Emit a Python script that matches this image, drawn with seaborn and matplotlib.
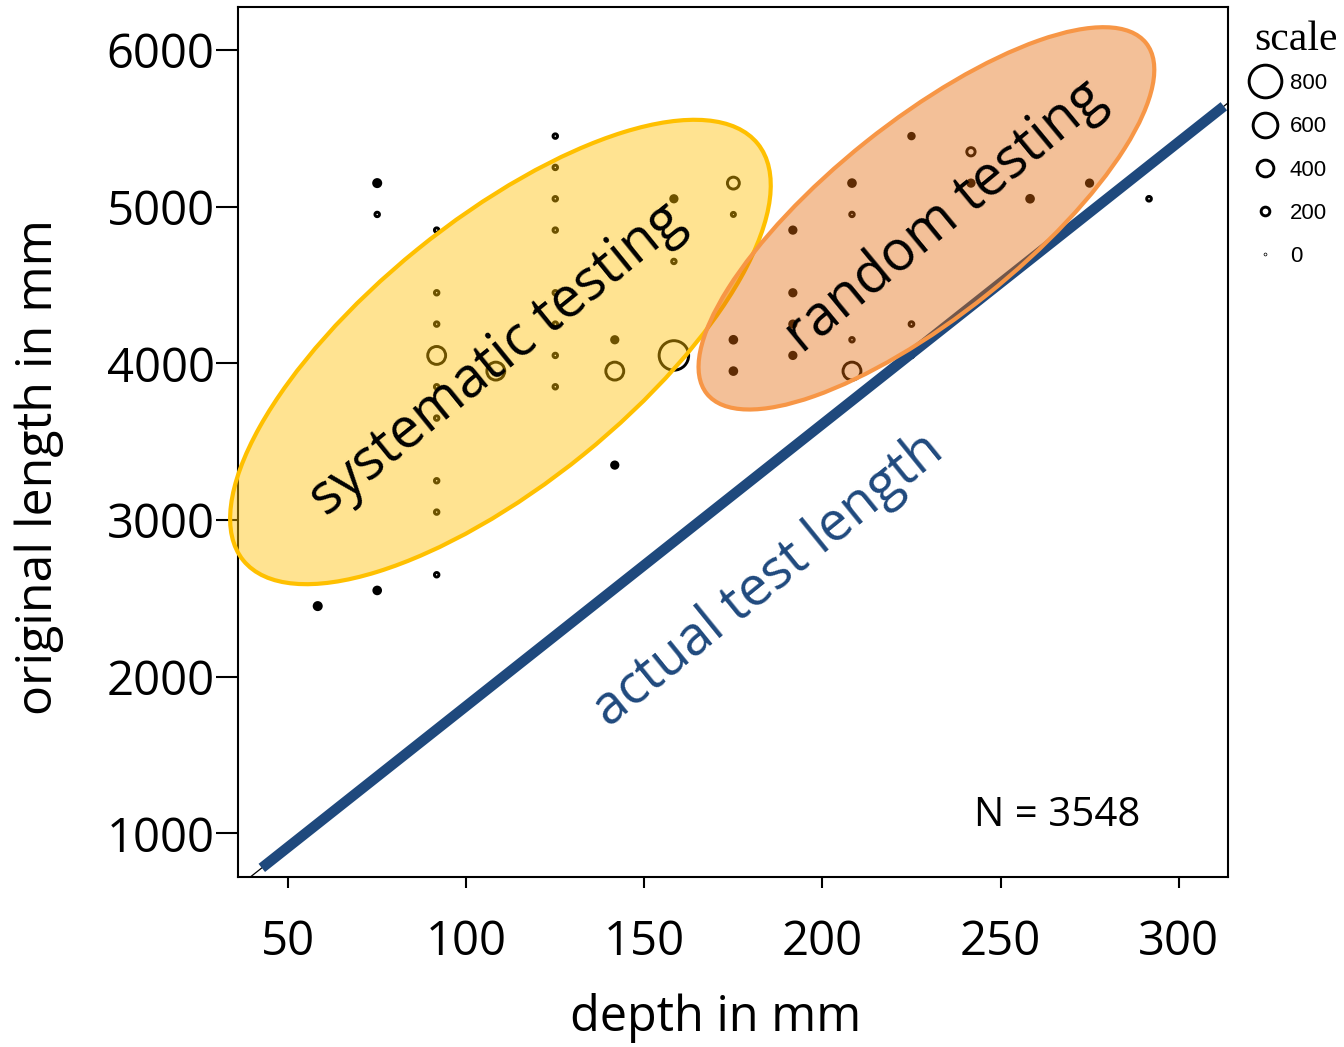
import numpy as np
import pandas as pd
import seaborn as sns
import matplotlib.pyplot as plt
from matplotlib.patches import Ellipse
from matplotlib.lines import Line2D
from matplotlib.transforms import ScaledTranslation

# values
depth = [58.3, 75, 75, 75, 91.7, 91.7, 91.7, 91.7, 91.7, 91.7, 91.7, 91.7, 91.7,
         108.3, 125, 125, 125, 125, 125, 125, 125, 125,
         141.7, 141.7, 141.7, 158.3, 158.3, 158.3, 175, 175, 175, 175,
         191.7, 191.7, 191.7, 191.7, 208.3, 208.3, 208.3, 208.3,
         225, 225, 225, 241.7, 241.7, 258.3, 275, 291.7]
length = [2450, 5150, 4950, 2550, 4850, 4450, 4250, 4050, 3850, 3650, 3250, 3050, 2650,
          3950, 5450, 5250, 5050, 4850, 4450, 4250, 4050, 3850,
          4150, 3950, 3350, 5050, 4650, 4050, 5150, 4950, 4150, 3950,
          4850, 4450, 4250, 4050, 5150, 4950, 4150, 3950,
          5450, 4250, 4050, 5350, 5150, 5050, 5150, 5050]
scale = [160, 160, 95, 150, 95, 95, 95, 430, 95, 95, 95, 95, 95,
         430, 95, 95, 95, 95, 95, 95, 95, 95,
         140, 430, 140, 140, 95, 720, 280, 85, 150, 150,
         140, 140, 140, 140, 150, 95, 95, 430,
         120, 100, 100, 190, 140, 150, 140, 100]
filled = [1, 1, 0, 1, 0, 0, 0, 0, 0, 0, 0, 0, 0,
          0, 0, 0, 0, 0, 0, 0, 0, 0,
          1, 0, 1, 1, 0, 0, 0, 0, 1, 1,
          1, 1, 1, 1, 1, 0, 0, 0,
          1, 0, 0, 0, 1, 1, 1, 0]

legend_levels = [800, 600, 400, 200, 0]
x_ticks = [50, 100, 150, 200, 250, 300]
y_ticks = [1000, 2000, 3000, 4000, 5000, 6000]

# actual test length line: length = slope * depth + offset
line_slope, line_offset = 18, 12
line_depth = [42.6, 312.7]
n_label = "N = 3548"

DPI = 100


def marker_diam(v):
    # marker diameter in points for a scale value
    return (0.7 + 0.04 * v) * 72 / DPI


df = pd.DataFrame({"depth": depth, "length": length, "scale": scale, "filled": filled})
df["area"] = marker_diam(df["scale"]) ** 2

sns.set_style("ticks")
plt.rcParams["font.family"] = ["Open Sans", "DejaVu Sans"]
plt.rcParams["text.color"] = "black"
plt.rcParams["axes.labelcolor"] = "black"
plt.rcParams["xtick.color"] = "black"
plt.rcParams["ytick.color"] = "black"

fig = plt.figure(figsize=(13.44, 10.47), dpi=DPI)
ax = fig.add_axes([0.1773, 0.1621, 0.7362, 0.8315])

sns.scatterplot(data=df[df["filled"] == 0], x="depth", y="length", size="area",
                sizes=(0, 1000), size_norm=(0, 1000), facecolor="none",
                edgecolor="black", linewidth=2.1, legend=False, ax=ax, zorder=2)
sns.scatterplot(data=df[df["filled"] == 1], x="depth", y="length", size="area",
                sizes=(0, 1000), size_norm=(0, 1000), facecolor="black",
                edgecolor="black", linewidth=2.1, legend=False, ax=ax, zorder=2)

ax.set_xlim(36, 313.8)
ax.set_ylim(719, 6276)

xl = np.array(ax.get_xlim())
ax.plot(xl, line_slope * xl + line_offset, color="black", lw=0.9, zorder=2.5)
ld = np.array(line_depth)
ax.plot(ld, line_slope * ld + line_offset, color="#1F497D", lw=7.5,
        solid_capstyle="butt", zorder=3)


def add_ellipse(cx, cy, w, h, angle, face, edge):
    tr = fig.dpi_scale_trans + ScaledTranslation(cx, cy, ax.transData)
    e = Ellipse((0, 0), w, h, angle=angle, transform=tr, facecolor=face,
                edgecolor=edge, lw=3, zorder=4, clip_on=False)
    ax.add_patch(e)


add_ellipse(109.6, 4072, 6.62, 2.64, 39, (1.0, 0.75, 0.0, 0.43), "#FFC000")
add_ellipse(229.2, 4925, 5.62, 1.95, 38.6, (0.89, 0.42, 0.04, 0.42), "#F79646")

ax.text(108.6, 4021, "systematic testing", fontsize=40, rotation=39,
        rotation_mode="anchor", ha="center", va="center", zorder=5)
ax.text(234.4, 4934, "random testing", fontsize=40, rotation=39.5,
        rotation_mode="anchor", ha="center", va="center", zorder=5)
ax.text(184.7, 2617, "actual test length", fontsize=39, rotation=39,
        rotation_mode="anchor", ha="center", va="center", color="#1F497D", zorder=5)
ax.text(265.8, 1111, n_label, fontsize=29, ha="center", va="center", zorder=5)

ax.set_xticks(x_ticks)
ax.set_yticks(y_ticks)
ax.tick_params(axis="y", length=16, width=1.5, pad=1, labelsize=34)
ax.tick_params(axis="x", length=8, width=1.5, pad=22, labelsize=34)
for s in ax.spines.values():
    s.set_linewidth(1.5)
    s.set_color("black")

ax.set_xlabel("depth in mm", fontsize=35)
ax.set_ylabel("original length in mm", fontsize=36)
ax.xaxis.set_label_coords(0.482, -0.133)
ax.yaxis.set_label_coords(-0.176, 0.471)

# size legend (title placed separately so its gap can be matched)
handles = [Line2D([], [], marker="o", ls="", markersize=marker_diam(v),
                  markerfacecolor="none", markeredgecolor="black",
                  markeredgewidth=2.1) for v in legend_levels]
ax.legend(handles, [str(v) for v in legend_levels],
          loc="upper left", bbox_to_anchor=(1241 / 1344, 1 - 62 / 1047),
          bbox_transform=fig.transFigure, frameon=False, borderpad=0,
          handlelength=1.2, handletextpad=0.5, labelspacing=1.0,
          prop={"family": "Liberation Sans", "size": 16})
fig.text(1296 / 1344, 1 - 50 / 1047, "scale", family="Liberation Serif",
         fontsize=30, ha="center", va="baseline")

fig.savefig("out.png", dpi=DPI)
